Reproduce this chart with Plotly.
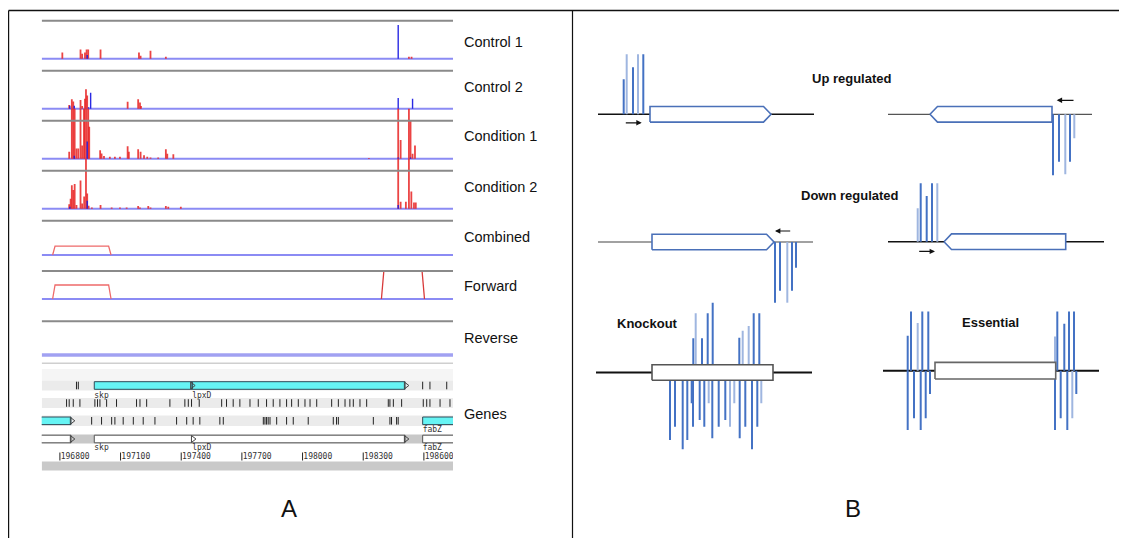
import plotly.graph_objects as go

# page offset compensation (browser body margin)
OFF = 8
W, H = 1127 - OFF, 538 - OFF

# ---------------- Panel A data (genome coordinates) ----------------
GENOME_RANGE = [196710, 198744]
TICK_VALUES = [196800, 197100, 197400, 197700, 198000, 198300, 198600]
TICK_LABELS = ["196800", "197100", "197400", "197700", "198000", "198300", "198600"]
TRACK_NAMES = ["Control 1", "Control 2", "Condition 1", "Condition 2", "Combined", "Forward", "Reverse", "Genes"]

# read counts scaled so that the grey track line = 100
C1_RED_POS = [196812, 196902, 196910, 196924, 196932, 196940, 197001, 197191, 197199, 197248, 197324, 198526, 198539]
C1_RED_H = [16, 24, 13, 16, 24, 24, 24, 16, 8, 21, 5, 5, 5]
C1_BLUE_POS = [196935, 198473]
C1_BLUE_H = [10, 89]

C2_RED_POS = [196846, 196859, 196866, 196902, 196910, 196924, 196929, 196935, 197135, 197187, 197196, 197201]
C2_RED_H = [10, 25, 19, 23, 7, 26, 51, 35, 18, 25, 16, 7]
C2_BLUE_POS = [196849, 196871, 196942, 196952, 198473, 198544]
C2_BLUE_H = [8, 8, 4, 42, 28, 26]

K1_RED_POS = [196846, 196859, 196866, 196873, 196882, 196891, 196902, 196910, 196919, 196924, 196932, 196940,
              196945, 196999, 197006, 197018, 197047, 197072, 197097, 197135, 197141, 197187, 197199, 197216,
              197232, 197248, 197286, 197324, 197331, 197361, 198328, 198473, 198485, 198526, 198534, 198544, 198556]
K1_RED_H = [18, 140, 140, 140, 27, 27, 140, 35, 140, 140, 140, 140,
            84, 22, 14, 7, 5, 5, 5, 33, 18, 25, 18, 9,
            5, 3, 3, 25, 13, 12, 2, 140, 49, 140, 102, 13, 35]
K1_BLUE_POS = [196871, 196935, 198473, 198534]
K1_BLUE_H = [8, 45, 3, 3]

K2_RED_POS = [196846, 196853, 196859, 196866, 196873, 196882, 196902, 196910, 196920, 196929, 196935, 196942,
              196958, 197001, 197056, 197097, 197130, 197187, 197196, 197237, 197248, 197324, 197336, 197398,
              198473, 198485, 198511, 198526, 198538, 198551, 198560]
K2_RED_H = [12, 26, 62, 49, 65, 10, 74, 14, 32, 140, 40, 8,
            3, 10, 3, 3, 3, 7, 3, 7, 3, 7, 5, 5,
            140, 18, 18, 140, 45, 16, 16]
K2_BLUE_POS = [196849, 196935, 198473]
K2_BLUE_H = [5, 21, 10]

# segments (start, end, level as fraction of the track)
COMB_START = [196770]
COMB_END = [197047]
COMB_LEVEL = [0.26]
FWD_START = [196770, 198396]
FWD_END = [197047, 198597]
FWD_LEVEL = [0.5, 1.0]
REV_START = []
REV_END = []
REV_LEVEL = []

# genes
ROW1_NAMES = ["skp", "lpxD"]
ROW1_START = [196970, 197454]
ROW1_END = [197454, 198507]
ROW3_NAMES = ["", "fabZ"]
ROW3_START = [196600, 198594]
ROW3_END = [196855, 199000]
ROW4_NAMES = ["", "skp", "fabZ"]
ROW4_START = [196600, 196970, 198594]
ROW4_END = [196855, 198507, 199000]
ROW4_MARK = [196855, 197454, 198507]
ROW4_MARK_NAME = ["", "lpxD", ""]

ROW1_TICKS = [196882, 196891, 198594, 198630, 198713]
ROW2_TICKS = [196833, 196846, 196866, 196899, 196973, 196986, 196998, 197031, 197080, 197179, 197196, 197229,
              197344, 197418, 197435, 197451, 197489, 197600, 197624, 197657, 197690, 197740, 197781, 197822,
              197855, 197888, 197921, 197946, 197979, 198012, 198037, 198070, 198144, 198177, 198210, 198234,
              198251, 198284, 198317, 198424, 198432, 198449, 198490, 198597, 198614, 198630, 198680, 198729]
ROW3_TICKS = [196957, 197006, 197056, 197072, 197113, 197163, 197212, 197270, 197377, 197427, 197459, 197492,
              197591, 197608, 197806, 197814, 197822, 197830, 197839, 197872, 197921, 197954, 198028, 198152,
              198168, 198177, 198350, 198432, 198440, 198465, 198473]

# ---------------- Panel B data (schematic units) ----------------
B_TITLES = ["Up regulated", "Down regulated", "Knockout", "Essential"]

D1_GENE = [0, 121]
D1_LINE = [-52, 164]
D1_POS = [-26.3, -23.3, -17, -12, -6.7]
D1_LEN = [35, 60, 47, 60, 60]
D1_TONE = [0, 1, 0, 1, 0]
D1_ARROW = [-25.7, -8.3, -8.5]

D2_GENE = [-122, 0]
D2_LINE = [-164, 40]
D2_POS = [1, 7, 13.3, 18, 22.3]
D2_LEN = [-61, -47.4, -60, -47.4, -24]
D2_TONE = [0, 0, 1, 0, 1]
D2_ARROW = [23, 4.7, 14]

D3_GENE = [-115, 7]
D3_LINE = [-169, 46]
D3_POS = [8, 13, 20.3, 25, 29]
D3_LEN = [-60.7, -48.7, -60.7, -48.7, -25.7]
D3_TONE = [0, 0, 1, 0, 0]
D3_ARROW = [24.7, 8, 11]

D4_GENE = [0, 121.7]
D4_LINE = [-56, 160]
D4_POS = [-26.3, -23.3, -17.3, -12, -6.7]
D4_LEN = [33.4, 58.4, 45.7, 58.4, 58.4]
D4_TONE = [1, 0, 0, 0, 1]
D4_ARROW = [-26.3, -9, -9.7]

D5_GENE = [0, 121]
D5_LINE = [-56, 160]
D5_POS = [41.3, 43.7, 50, 55.7, 60.7, 87.3, 90.7, 96.7, 101.7, 107.3,
          18, 23, 30.7, 35.3, 39.7, 41, 47.7, 52.3, 56.7, 60.3, 66.7, 73.3, 78, 82.3, 87.7, 93.3, 100, 105.3, 109.3]
D5_LEN = [34.2, 59.2, 34.2, 59.2, 69.8, 34.8, 41.8, 46.5, 59.2, 59.2,
          -67.5, -54.2, -76.8, -67.5, -30.8, -54.2, -47.5, -54.2, -30.8, -65.8, -54.2, -47.5, -54.2, -30.8,
          -65.8, -54.2, -76.8, -54.2, -30.8]
D5_TONE = [0, 1, 0, 0, 0, 0, 1, 1, 0, 0,
           0, 0, 0, 0, 0, 0, 0, 0, 1, 0, 0, 0, 1, 1, 0, 0, 0, 0, 1]

D6_GENE = [0, 120.7]
D6_LINE = [-52, 164]
D6_POS = [-27.3, -24, -17.3, -12.7, -6.7, 120, 122.3, 129.3, 134, 139,
          -27.3, -21, -14.3, -9.3, -5, 120, 125.7, 132.3, 137.3, 141.3]
D6_LEN = [35, 59.3, 47.7, 59.3, 59.3, 34.3, 59.3, 47, 59.3, 59.3,
          -59.3, -47.6, -59.3, -47.6, -23.3, -59.3, -47.6, -59.3, -47.6, -23.3]
D6_TONE = [0, 0, 1, 0, 0, 1, 0, 0, 0, 0,
           0, 0, 0, 0, 0, 0, 0, 0, 1, 0]

# ---------------- figure ----------------
fig = go.Figure()
layout = dict(width=W, height=H, margin=dict(l=0, r=0, t=0, b=0), paper_bgcolor="white",
              plot_bgcolor="rgba(0,0,0,0)", showlegend=False)
shapes, annotations = [], []


def px_x(v):
    return (v - OFF) / W


def px_y(v):
    return 1 - (v - OFF) / H


def hid(**kw):
    d = dict(visible=False, showgrid=False, zeroline=False, fixedrange=True)
    d.update(kw)
    return d


def segs(pos, h, base=0):
    xs, ys = [], []
    for p, v in zip(pos, h):
        xs += [p, p, None]
        ys += [base, v, None]
    return xs, ys


RED = "rgba(232,35,35,0.85)"
BLUE_SPK = "rgba(30,30,225,0.95)"
BASE_BLUE = "rgba(100,100,240,0.75)"
GREY = "#8a8a8a"

# x axis of panel A
layout["xaxis"] = hid(domain=[px_x(41.7), px_x(453)], range=GENOME_RANGE, anchor="y")

# signal tracks: (grey line px, baseline px)
sig_tracks = [(20.7, 58.7), (70.7, 108.7), (120.7, 158.7), (170.7, 208.7)]
sig_data = [(C1_RED_POS, C1_RED_H, C1_BLUE_POS, C1_BLUE_H),
            (C2_RED_POS, C2_RED_H, C2_BLUE_POS, C2_BLUE_H),
            (K1_RED_POS, K1_RED_H, K1_BLUE_POS, K1_BLUE_H),
            (K2_RED_POS, K2_RED_H, K2_BLUE_POS, K2_BLUE_H)]
for i, ((gpx, bpx), (rp, rh, bp, bh)) in enumerate(zip(sig_tracks, sig_data)):
    yn = "y" if i == 0 else f"y{i+1}"
    key = "yaxis" if i == 0 else f"yaxis{i+1}"
    upp = 100.0 / (bpx - gpx)  # units per pixel
    top_px = bpx - 50
    layout[key] = hid(domain=[px_y(bpx + 2), px_y(top_px)], range=[-2 * upp, 100 + (gpx - top_px) * upp], anchor="x")
    shapes.append(dict(type="line", xref="x", yref=yn, x0=GENOME_RANGE[0], x1=GENOME_RANGE[1], y0=100, y1=100,
                       line=dict(color=GREY, width=2)))
    fig.add_trace(go.Scatter(x=GENOME_RANGE, y=[0, 0], mode="lines", line=dict(color=BASE_BLUE, width=2),
                             xaxis="x", yaxis=yn, hoverinfo="skip"))
    xs, ys = segs(rp, rh)
    fig.add_trace(go.Scatter(x=xs, y=ys, mode="lines", line=dict(color=RED, width=1.8), xaxis="x", yaxis=yn,
                             hoverinfo="skip"))
    xs, ys = segs(bp, bh)
    fig.add_trace(go.Scatter(x=xs, y=ys, mode="lines", line=dict(color=BLUE_SPK, width=1.4),
                             xaxis="x", yaxis=yn, hoverinfo="skip"))

# segment tracks
seg_tracks = [(220.7, 255, COMB_START, COMB_END, COMB_LEVEL, 2),
              (271, 299, FWD_START, FWD_END, FWD_LEVEL, 2),
              (321.3, 355, REV_START, REV_END, REV_LEVEL, 3.5)]
for j, (gpx, bpx, st, en, lv, bw) in enumerate(seg_tracks):
    idx = 5 + j
    yn, key = f"y{idx}", f"yaxis{idx}"
    upp = 1.0 / (bpx - gpx)
    layout[key] = hid(domain=[px_y(bpx + 3), px_y(gpx - 3)], range=[-3 * upp, 1 + 3 * upp], anchor="x")
    shapes.append(dict(type="line", xref="x", yref=yn, x0=GENOME_RANGE[0], x1=GENOME_RANGE[1], y0=1, y1=1,
                       line=dict(color=GREY, width=2)))
    fig.add_trace(go.Scatter(x=GENOME_RANGE, y=[0, 0], mode="lines",
                             line=dict(color="rgba(110,110,235,0.65)" if j == 2 else BASE_BLUE, width=bw),
                             xaxis="x", yaxis=yn, hoverinfo="skip"))
    for s, e, l in zip(st, en, lv):
        fig.add_trace(go.Scatter(x=[s - 6, s + 6, e - 6, e + 6], y=[0, l, l, 0], mode="lines",
                                 line=dict(color="#d83a3a" if l >= 1 else "#ee6a6a", width=1.3),
                                 xaxis="x", yaxis=yn, hoverinfo="skip"))

# gene track, local pixel units from 355 px downwards
layout["yaxis8"] = hid(domain=[px_y(475), px_y(355)], range=[120, 0], anchor="x")
g = "y8"
X0, X1 = GENOME_RANGE


def band(y0, y1, color):
    shapes.append(dict(type="rect", xref="x", yref=g, x0=X0, x1=X1, y0=y0, y1=y1, fillcolor=color,
                       line=dict(width=0), layer="below"))


shapes.append(dict(type="line", xref="x", yref=g, x0=X0, x1=X1, y0=8.3, y1=8.3, line=dict(color="#cfcfcf", width=1.5)))
band(14, 25.5, "#f5f5f5")
band(25.5, 35.5, "#ebebeb")
band(43, 53, "#ebebeb")
band(60.5, 71, "#ebebeb")
band(79.5, 88.5, "#c8c8c8")
band(106.5, 115.5, "#c9c9c9")


def gene_boxes(starts, ends, cy, hh, fill, line):
    xs, ys = [], []
    for s, e in zip(starts, ends):
        xs += [s, e, e, s, s, None]
        ys += [cy - hh, cy - hh, cy + hh, cy + hh, cy - hh, None]
    fig.add_trace(go.Scatter(x=xs, y=ys, mode="lines", fill="toself", fillcolor=fill,
                             line=dict(color=line, width=1), xaxis="x", yaxis=g, hoverinfo="skip"))


def ticks(pos, cy, hh):
    xs, ys = [], []
    for p in pos:
        xs += [p, p, None]
        ys += [cy - hh, cy + hh, None]
    fig.add_trace(go.Scatter(x=xs, y=ys, mode="lines", line=dict(color="#222", width=1), xaxis="x", yaxis=g,
                             hoverinfo="skip"))


def labels(pos, names, cy):
    fig.add_trace(go.Scatter(x=pos, y=[cy] * len(pos), mode="text", text=names, textposition="middle right",
                             textfont=dict(family="DejaVu Sans Mono", size=8, color="#333"), xaxis="x", yaxis=g,
                             hoverinfo="skip"))


def marks(pos, cy):
    fig.add_trace(go.Scatter(x=pos, y=[cy] * len(pos), mode="markers",
                             marker=dict(symbol="triangle-right-open", size=6, color="#444", line=dict(width=1)),
                             xaxis="x", yaxis=g, hoverinfo="skip"))


CYAN = "#66f4f4"
gene_boxes(ROW1_START, ROW1_END, 30.5, 3.8, CYAN, "#2e4b58")
marks([ROW1_END[0], ROW1_END[1] + 4], 30.5)
labels(ROW1_START, ROW1_NAMES, 41)
ticks(ROW1_TICKS, 30.5, 3.8)
ticks(ROW2_TICKS, 48, 3.8)
gene_boxes(ROW3_START, ROW3_END, 65.8, 3.8, CYAN, "#2e4b58")
marks([ROW3_END[0] + 4], 65.8)
labels(ROW3_START, ROW3_NAMES, 75)
ticks(ROW3_TICKS, 65.8, 3.8)
gene_boxes(ROW4_START, ROW4_END, 84, 3.8, "white", "#555")
marks([m + 4 for m in ROW4_MARK], 84)
labels(ROW4_START, ROW4_NAMES, 93)
labels([ROW4_MARK[1]], [ROW4_MARK_NAME[1]], 93)
ticks(TICK_VALUES, 101.5, 4)
labels([t + 4 for t in TICK_VALUES], TICK_LABELS, 101.5)

# track labels
label_y = [42, 87, 136, 187, 237, 286, 338, 414]
for name, yy in zip(TRACK_NAMES, label_y):
    annotations.append(dict(x=px_x(461.5), y=px_y(yy), xref="paper", yref="paper", text=name, showarrow=False,
                            xanchor="left", yanchor="middle", font=dict(family="Liberation Sans", size=14.5, color="#111")))

# ---------------- Panel B ----------------
DIAGRAMS = [
    # origin px, gene, direction, line, pos, len, tone, arrow, line style, outline, half height
    ((650, 114.3), D1_GENE, 1, D1_LINE, D1_POS, D1_LEN, D1_TONE, D1_ARROW, ("#111", 1.6), "#4a70b8", 7.8),
    ((1052, 114.3), D2_GENE, -1, D2_LINE, D2_POS, D2_LEN, D2_TONE, D2_ARROW, ("#555", 1.2), "#4a70b8", 7.8),
    ((767, 242), D3_GENE, 1, D3_LINE, D3_POS, D3_LEN, D3_TONE, D3_ARROW, ("#444", 1.2), "#4a70b8", 7.8),
    ((944, 241.7), D4_GENE, -1, D4_LINE, D4_POS, D4_LEN, D4_TONE, D4_ARROW, ("#111", 1.6), "#4a70b8", 7.8),
    ((652, 372.5), D5_GENE, 0, D5_LINE, D5_POS, D5_LEN, D5_TONE, None, ("#111", 1.8), "#555", 7.8),
    ((935, 370.7), D6_GENE, 0, D6_LINE, D6_POS, D6_LEN, D6_TONE, None, ("#111", 2), "#666", 8.3),
]
TIP = 7.5
for k, (org, gene, dr, line, pos, ln, tone, arrow, lstyle, outline, hh) in enumerate(DIAGRAMS):
    ox, oy = org
    xa, ya = f"x{k+2}", f"y{k+9}"
    xmin, xmax = line[0] - 10, line[1] + 10
    ymin, ymax = -90, 80
    layout[f"xaxis{k+2}"] = hid(domain=[px_x(ox + xmin), px_x(ox + xmax)], range=[xmin, xmax], anchor=ya)
    layout[f"yaxis{k+9}"] = hid(domain=[px_y(oy - ymin), px_y(oy - ymax)], range=[ymin, ymax], anchor=xa)
    fig.add_trace(go.Scatter(x=line, y=[0, 0], mode="lines", line=dict(color=lstyle[0], width=lstyle[1]),
                             xaxis=xa, yaxis=ya, hoverinfo="skip"))
    for t, col in ((0, "#4472c4"), (1, "#9fb6e0")):
        pp = [p for p, tt in zip(pos, tone) if tt == t]
        ll = [v for v, tt in zip(ln, tone) if tt == t]
        xs, ys = segs(pp, ll)
        fig.add_trace(go.Scatter(x=xs, y=ys, mode="lines", line=dict(color=col, width=2), xaxis=xa, yaxis=ya,
                                 hoverinfo="skip"))
    s, e = gene
    if dr == 1:
        gx = [s, e - TIP, e, e - TIP, s, s]
        gy = [-hh, -hh, 0, hh, hh, -hh]
    elif dr == -1:
        gx = [s, s + TIP, e, e, s + TIP, s]
        gy = [0, -hh, -hh, hh, hh, 0]
    else:
        gx = [s, e, e, s, s]
        gy = [-hh, -hh, hh, hh, -hh]
    fig.add_trace(go.Scatter(x=gx, y=gy, mode="lines", fill="toself", fillcolor="white",
                             line=dict(color=outline, width=1.6), xaxis=xa, yaxis=ya, hoverinfo="skip"))
    if arrow is not None:
        a0, a1, ay = arrow
        annotations.append(dict(x=a1, y=ay, ax=a0, ay=ay, xref=xa, yref=ya, axref=xa, ayref=ya, text="",
                                showarrow=True, arrowhead=2, arrowsize=0.9, arrowwidth=1.2, arrowcolor="#111"))

title_pos = [(852, 79), (850, 196), (647, 323), (990, 322)]
for t, (tx, ty) in zip(B_TITLES, title_pos):
    annotations.append(dict(x=px_x(tx), y=px_y(ty), xref="paper", yref="paper", text=f"<b>{t}</b>", showarrow=False,
                            xanchor="center", yanchor="middle", font=dict(family="Liberation Sans", size=13, color="#111")))

# panel letters
for t, tx in (("A", 289), ("B", 853)):
    annotations.append(dict(x=px_x(tx), y=px_y(508), xref="paper", yref="paper", text=t, showarrow=False,
                            xanchor="center", yanchor="middle",
                            font=dict(family="Liberation Sans Narrow, Liberation Sans", size=24, color="#111")))

# frame
shapes += [
    dict(type="line", xref="paper", yref="paper", x0=px_x(8.6), x1=1, y0=px_y(10.5), y1=px_y(10.5),
         line=dict(color="#111", width=1.5)),
    dict(type="line", xref="paper", yref="paper", x0=px_x(8.6), x1=px_x(8.6), y0=px_y(10.5), y1=0,
         line=dict(color="#111", width=1.2)),
    dict(type="line", xref="paper", yref="paper", x0=px_x(572.5), x1=px_x(572.5), y0=px_y(10.5), y1=0,
         line=dict(color="#111", width=1.2)),
]

layout["shapes"] = shapes
layout["annotations"] = annotations
fig.update_layout(**layout)
fig.write_html("out.html")
